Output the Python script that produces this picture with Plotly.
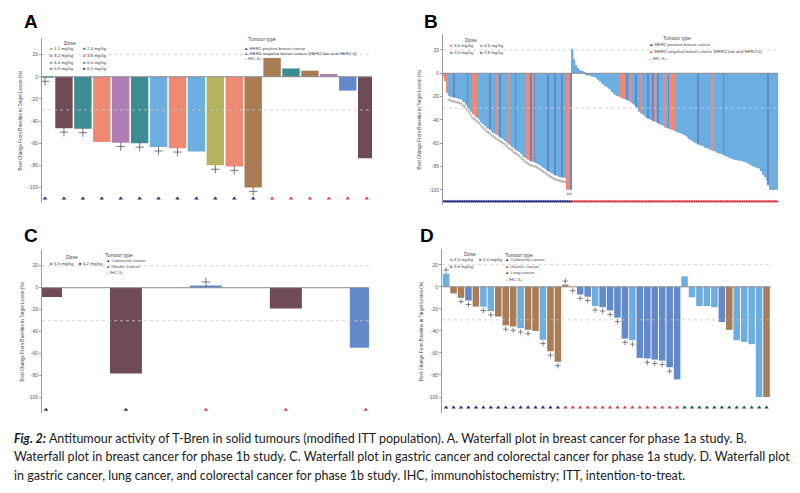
import plotly.graph_objects as go

W, H = 800, 493

DOSE_COLORS = {
    "1.2 mg/kg": "#b3b360", "2.4 mg/kg": "#3d8c93", "3.2 mg/kg": "#ad7eb5",
    "3.6 mg/kg": "#ee8a73", "4.4 mg/kg": "#6daee0", "5.0 mg/kg": "#6289c9",
    "5.8 mg/kg": "#a97c55", "6.2 mg/kg": "#6f4c55",
}
CODE = {"O": "1.2 mg/kg", "T": "2.4 mg/kg", "P": "3.2 mg/kg", "S": "3.6 mg/kg",
        "L": "4.4 mg/kg", "B": "5.0 mg/kg", "W": "5.8 mg/kg", "M": "6.2 mg/kg"}
TUMOUR_COLORS = {"pos": "#2b2f7e", "neg": "#d9434e", "crc": "#2b2f7e",
                 "gc": "#d9434e", "lc": "#1d5e48"}

# ---------------- Panel A: breast cancer, phase 1a ----------------
a_values = [-0.6, -46.5, -47, -59, -59.5, -60, -63.5, -64.5, -67.5, -80, -81, -100,
            17, 7.5, 5.5, 2.5, -12.5, -73.5]
a_doses = "LMTSPTLSLOSWWTWPBM"
a_tumour = ["pos"] * 12 + ["neg"] * 6
a_ihc3 = [1, 1, 1, 0, 1, 1, 1, 1, 0, 1, 1, 1, 0, 0, 0, 0, 0, 0]

# ---------------- Panel B: breast cancer, phase 1b ----------------
b_pos_values = [-3, -7, -17, -19, -20, -20.5, -21, -21, -21.5, -22,
                -22.5, -24, -25, -27, -29, -31, -33, -35, -36, -37.5,
                -38.5, -40, -42, -43.5, -45, -46.5, -47.5, -48.5, -50, -51,
                -52, -53, -54, -55, -56, -57, -58, -59.5, -61, -62,
                -63, -64.5, -65.5, -66.5, -67.5, -69, -70.5, -72, -73, -74,
                -75, -75.5, -76, -76.5, -77, -78, -79, -80, -81, -82,
                -83, -84, -85, -86, -87, -87.5, -88, -88.5, -89, -89.5,
                -89.5, -90, -100, -100, -100]
b_pos_doses = ("LSSLLLBLLL" "LLLLBLLSSS" "LLLLLLLBLL" "LSLBLLLLSL" "LLBLLLLLSS"
               "LBSBLLLLLL" "LBLLLBLLLB" "LLSSB")
b_neg_values = [21, 12, 7, 4.5, 3, 2.5, 2, 1, -1.5, -2,
                -2, -2.5, -3, -3.5, -4.5, -5.5, -7, -8.5, -9.5, -11,
                -12, -13, -14, -16, -17.5, -18.5, -19.5, -20, -21, -21.5,
                -22, -22.5, -23, -24, -25, -26, -27, -29, -30.5, -33,
                -34.5, -35.5, -36.5, -38, -39, -39.5, -40, -41, -41.5, -42,
                -43, -44, -44.5, -45.5, -46.5, -47, -47.5, -48, -48.5, -49,
                -50, -50.5, -51, -51.5, -52, -53, -54, -55, -56.5, -57.5,
                -58.5, -59, -60, -61, -61.5, -62, -62.5, -63.5, -64, -64.5,
                -65.5, -66, -66.5, -67, -68, -68.5, -69, -69.5, -70, -71,
                -71.5, -72.5, -73, -73.5, -74, -74.5, -74.5, -75, -75, -75.5,
                -76, -76.5, -77, -78, -79, -80, -80, -81, -81.5, -82,
                -84, -87, -89, -92, -96, -100, -100, -100, -100, -100]
b_neg_doses = ("LLLLLLLLWL" "LLLLLLLLLL" "LLLLLLLLSS" "SLBLSLLBLL" "SLLLBLLBSL"
               "BLLSSLBSSS" "SLLLLLLLLL" "LLLBLLLLLL" "LSSLLLLLBL" "LLLLLLLLLL"
               "LLLLLLLLLL" "LLLLBLLLLL")
b_pos_ihc3_from = 3

# ---------------- Panel C: gastric + colorectal, phase 1a ----------------
c_values = [-8.5, -78, 2, -19, -54.5]
c_doses = "MMBMB"
c_tumour = ["crc", "crc", "gc", "gc", "gc"]
c_ihc3 = [0, 0, 1, 0, 0]

# ---------------- Panel D: gastric, lung, colorectal, phase 1b ----------------
d_values = [12, -6, -10, -12.5, -18, -18, -22, -27, -35, -36, -37.5, -39, -40, -48, -58.5, -68,
            2, 0, -7, -9, -17.5, -18.5, -21.5, -28, -47, -48.5, -64.5, -65, -66, -67, -73, -84,
            9.5, -9.5, -17.5, -17.5, -18.5, -32, -39, -48.5, -50, -52, -100, -100]
d_doses = ("LWWBWLLWWWLWWLWW" "WLBBLBBBBLBBBBBB" "LLLLLBWLLLLW")
d_tumour = ["crc"] * 16 + ["gc"] * 16 + ["lc"] * 12
d_ihc3 = [1, 0, 1, 1, 0, 1, 1, 0, 1, 1, 1, 1, 0, 1, 1, 1,
          1, 1, 1, 1, 1, 1, 1, 1, 1, 1, 0, 1, 1, 1, 1, 0,
          0, 0, 0, 0, 0, 0, 0, 0, 0, 0, 0, 0]

Y_TICKS = [20, 0, -20, -40, -60, -80, -100]
YTITLE = "Best Change From Baseline in Target Lesion (%)"


def px(x):
    return x / W


def py(y):
    return 1 - y / H


fig = go.Figure()
annotations = []
shapes = []

panels = [
    dict(key="", label="A", values=a_values, doses=a_doses, tumour=a_tumour, ihc=a_ihc3,
         xd=(42, 372), yd=(38, 203), yr=(-114, 35), xr=(-0.16, 17.28), gap=0.08,
         tri=4, plus=6, pw=0.8, pc="#555555", tri_y=-110, lab=(22, 22), ytl=20),
    dict(key="2", label="B",
         values=b_pos_values + b_neg_values, doses=b_pos_doses + b_neg_doses,
         tumour=["pos"] * len(b_pos_values) + ["neg"] * len(b_neg_values),
         ihc=[1 if i >= b_pos_ihc3_from else 0 for i in range(len(b_pos_values))]
         + [0] * len(b_neg_values),
         xd=(443, 778), yd=(34, 205), yr=(-113, 33.7), xr=(-0.5, 194.5), gap=0.12,
         tri=3.4, plus=2.2, pw=0.5, pc="#8a8a8a", tri_y=-110, lab=(422, 21), ytl=419),
    dict(key="3", label="C", values=c_values, doses=c_doses, tumour=c_tumour, ihc=c_ihc3,
         xd=(42, 369), yd=(250, 413), yr=(-113.9, 34.3), xr=(-0.05, 4.04), gap=0.6,
         tri=4, plus=6, pw=0.8, pc="#555555", tri_y=-111, lab=(22, 235), ytl=22),
    dict(key="4", label="D", values=d_values, doses=d_doses, tumour=d_tumour, ihc=d_ihc3,
         xd=(442, 771), yd=(249, 413), yr=(-114.5, 34.3), xr=(-0.55, 43.6), gap=0.12,
         tri=4, plus=4, pw=0.7, pc="#555555", tri_y=-109.5, lab=(418, 235), ytl=421),
]

layout_axes = {}
for p in panels:
    k = p["key"]
    xa, ya = "x" + k, "y" + k
    n = len(p["values"])
    idx = list(range(n))
    colors = [DOSE_COLORS[CODE[c]] for c in p["doses"]]
    fig.add_trace(go.Bar(x=idx, y=p["values"], marker=dict(color=colors, line=dict(width=0)),
                         xaxis=xa, yaxis=ya, showlegend=False, width=1 - p["gap"]))
    fig.add_trace(go.Scatter(x=idx, y=[p["tri_y"]] * n, mode="markers",
                             marker=dict(symbol="triangle-up", size=p["tri"],
                                         color=[TUMOUR_COLORS[t] for t in p["tumour"]],
                                         line=dict(width=0)),
                             xaxis=xa, yaxis=ya, showlegend=False, cliponaxis=False))
    px_i = [i for i in idx if p["ihc"][i]]
    py_v = [p["values"][i] - 3.5 if p["values"][i] < 0.5 else p["values"][i] + 3.2 for i in px_i]
    fig.add_trace(go.Scatter(x=px_i, y=py_v, mode="markers",
                             marker=dict(symbol="cross-thin", size=p["plus"],
                                         line=dict(width=p["pw"], color=p["pc"])),
                             xaxis=xa, yaxis=ya, showlegend=False))
    xkey = "xaxis" + k
    ykey = "yaxis" + k
    layout_axes[xkey] = dict(domain=[px(p["xd"][0]), px(p["xd"][1])], range=list(p["xr"]),
                             anchor=ya, visible=False, fixedrange=True)
    layout_axes[ykey] = dict(domain=[py(p["yd"][1]), py(p["yd"][0])], range=list(p["yr"]),
                             anchor=xa, showline=True, linecolor="#9a9a9a", linewidth=1,
                             ticks="outside", ticklen=2, tickcolor="#9a9a9a",
                             tickvals=Y_TICKS, ticktext=[str(v) for v in Y_TICKS],
                             tickfont=dict(size=5, color="#555555", family="Liberation Sans"),
                             showgrid=False, zeroline=False, fixedrange=True)
    dom = xa + " domain"
    shapes.append(dict(type="line", xref=dom, yref=ya, x0=0, x1=1, y0=0, y1=0,
                       line=dict(color="#8c8c8c", width=1)))
    for yv in (20, -30):
        shapes.append(dict(type="line", xref=dom, yref=ya, x0=0, x1=1, y0=yv, y1=yv,
                           line=dict(color="#c8c8c8", width=0.8, dash="dot")))
    annotations.append(dict(text="<b>%s</b>" % p["label"], x=px(p["lab"][0]), y=py(p["lab"][1]),
                            xref="paper", yref="paper", xanchor="left", yanchor="middle",
                            showarrow=False,
                            font=dict(size=19, family="Liberation Sans", color="#000")))
    ymid = (p["yd"][0] + p["yd"][1]) / 2
    annotations.append(dict(text=YTITLE, x=px(p["ytl"]), y=py(ymid), xref="paper", yref="paper",
                            textangle=-90, showarrow=False, xanchor="center", yanchor="middle",
                            font=dict(size=4.6, family="Liberation Sans", color="#444")))

LEG_FONT = dict(size=4.4, family="Liberation Sans", color="#444")


def leg_text(x, y, text, anchor="left", size=None):
    f = dict(LEG_FONT)
    if size:
        f["size"] = size
    annotations.append(dict(text=text, x=px(x), y=py(y), xref="paper", yref="paper",
                            xanchor=anchor, yanchor="middle", showarrow=False, font=f))


def sq(color, label):
    return '<span style="color:%s">■</span> %s' % (color, label)


def tri(color, label):
    return '<span style="color:%s">▲</span> %s' % (color, label)


def plus(label):
    return '<span style="color:#777">+</span> %s' % label


# Legends: Panel A
leg_text(70, 43, "Dose", "center", 5)
a_leg_left = ["1.2 mg/kg", "3.2 mg/kg", "4.4 mg/kg", "5.8 mg/kg"]
a_leg_right = ["2.4 mg/kg", "3.6 mg/kg", "5.0 mg/kg", "6.2 mg/kg"]
for r, (l1, l2) in enumerate(zip(a_leg_left, a_leg_right)):
    yy = 49 + r * 6.6
    leg_text(48, yy, sq(DOSE_COLORS[l1], l1))
    leg_text(81, yy, sq(DOSE_COLORS[l2], l2))
leg_text(262, 39, "Tumour type", "center", 5)
leg_text(242, 48, tri(TUMOUR_COLORS["pos"], "HER2-positive breast cancer"))
leg_text(242, 53.5, tri(TUMOUR_COLORS["neg"], "HER2-negative breast cancer (HER2-low and HER2-0)"))
leg_text(242, 59, plus("IHC 3+"))

# Legends: Panel B
leg_text(471, 40, "Dose", "center", 5)
leg_text(448, 45.5, sq(DOSE_COLORS["3.6 mg/kg"], "3.6 mg/kg"))
leg_text(478, 45.5, sq(DOSE_COLORS["4.4 mg/kg"], "4.4 mg/kg"))
leg_text(448, 52, sq(DOSE_COLORS["5.0 mg/kg"], "5.0 mg/kg"))
leg_text(478, 52, sq(DOSE_COLORS["5.8 mg/kg"], "5.8 mg/kg"))
leg_text(677, 38, "Tumour type", "center", 5)
leg_text(647, 44.5, tri(TUMOUR_COLORS["pos"], "HER2-positive breast cancer"))
leg_text(647, 51.5, tri(TUMOUR_COLORS["neg"], "HER2-negative breast cancer (HER2-low and HER2-0)"))
leg_text(647, 58, plus("IHC 3+"))

# Legends: Panel C
leg_text(72, 257, "Dose", "center", 5)
leg_text(48, 263, sq(DOSE_COLORS["5.0 mg/kg"], "5.0 mg/kg"))
leg_text(77, 263, sq(DOSE_COLORS["6.2 mg/kg"], "6.2 mg/kg"))
leg_text(119, 255, "Tumour type", "center", 5)
leg_text(104, 260.5, tri(TUMOUR_COLORS["crc"], "Colorectal cancer"))
leg_text(104, 266.5, tri(TUMOUR_COLORS["gc"], "Gastric cancer"))
leg_text(104, 272.3, plus("IHC 3+"))

# Legends: Panel D
leg_text(470, 254, "Dose", "center", 5)
leg_text(448, 259.5, sq(DOSE_COLORS["4.4 mg/kg"], "4.4 mg/kg"))
leg_text(477, 259.5, sq(DOSE_COLORS["5.0 mg/kg"], "5.0 mg/kg"))
leg_text(448, 266.5, sq(DOSE_COLORS["5.8 mg/kg"], "5.8 mg/kg"))
leg_text(519, 254.5, "Tumour type", "center", 5)
leg_text(503, 259.5, tri(TUMOUR_COLORS["crc"], "Colorectal cancer"))
leg_text(503, 266.5, tri(TUMOUR_COLORS["gc"], "Gastric cancer"))
leg_text(503, 272.3, tri(TUMOUR_COLORS["lc"], "Lung cancer"))
leg_text(503, 279.3, plus("IHC 3+"))

# Caption
caption_lines = [
    "<b><i>Fig. 2:</i></b> Antitumour activity of T-Bren in solid tumours (modified ITT population). "
    "A. Waterfall plot in breast cancer for phase 1a study. B.",
    "Waterfall plot in breast cancer for phase 1b study. C. Waterfall plot in gastric cancer and "
    "colorectal cancer for phase 1a study. D. Waterfall plot",
    "in gastric cancer, lung cancer, and colorectal cancer for phase 1b study. IHC, "
    "immunohistochemistry; ITT, intention-to-treat.",
]
for i, line in enumerate(caption_lines):
    annotations.append(dict(text=line, x=px(12), y=py(438 + i * 18.5), xref="paper", yref="paper",
                            xanchor="left", yanchor="middle", showarrow=False,
                            font=dict(size=12.5, family="Lato", color="#1a1a1a")))

fig.update_layout(width=W, height=H, margin=dict(l=0, r=0, t=0, b=0),
                  paper_bgcolor="white", plot_bgcolor="white", barmode="overlay",
                  showlegend=False, annotations=annotations, shapes=shapes, **layout_axes)

fig.write_html("out.html", config={"displayModeBar": False})
